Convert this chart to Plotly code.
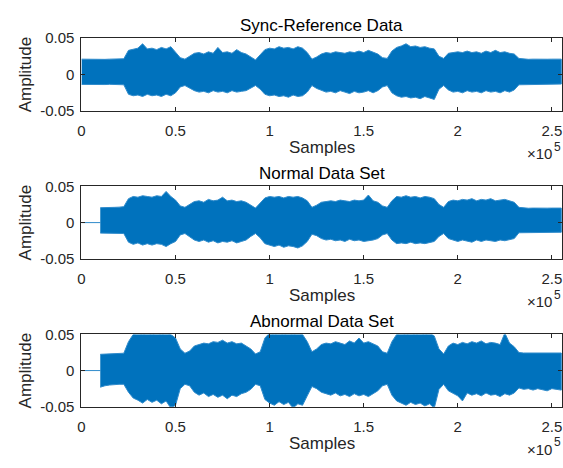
import plotly.graph_objects as go

W, H = 563, 468

# sample positions of the envelope readings (every 2500 samples)
positions = list(range(0, 257500, 2500))
onset = 10000  # start of recorded signal in Normal / Abnormal sets

titles = ["Sync-Reference Data", "Normal Data Set", "Abnormal Data Set"]
x_tickvals = [0, 50000, 100000, 150000, 200000, 250000]
x_ticktext = ["0", "0.5", "1", "1.5", "2", "2.5"]
y_tickvals = [-0.05, 0, 0.05]
y_ticktext = ["-0.05", "0", "0.05"]

# ---- envelope readings (upper / lower amplitude) ----
sync_upper = [
    0.021, 0.0208, 0.021, 0.0205, 0.021, 0.0207, 0.021, 0.0209, 0.021, 0.0215,
    0.033, 0.034, 0.036, 0.042, 0.035, 0.036, 0.034, 0.037, 0.035, 0.038,
    0.030, 0.023, 0.021, 0.025, 0.029, 0.030, 0.028, 0.031, 0.029, 0.037,
    0.030, 0.031, 0.029, 0.034, 0.030, 0.028, 0.024, 0.020, 0.027, 0.034,
    0.036, 0.035, 0.038, 0.036, 0.037, 0.035, 0.038, 0.036, 0.030, 0.021,
    0.024, 0.028, 0.030, 0.029, 0.031, 0.030, 0.029, 0.031, 0.030, 0.032,
    0.030, 0.033, 0.031, 0.028, 0.023, 0.022, 0.032, 0.037, 0.039, 0.042,
    0.038, 0.039, 0.037, 0.038, 0.036, 0.035, 0.025, 0.022, 0.029, 0.030,
    0.031, 0.030, 0.032, 0.030, 0.031, 0.029, 0.032, 0.030, 0.033, 0.030,
    0.031, 0.029, 0.028, 0.022, 0.021, 0.0208, 0.021, 0.0207, 0.021, 0.0209,
    0.021, 0.0208, 0.021,
]
sync_lower = [
    -0.0135, -0.0137, -0.0134, -0.0136, -0.0135, -0.0137, -0.0134, -0.0136, -0.0135, -0.014,
    -0.027, -0.029, -0.028, -0.030, -0.027, -0.029, -0.028, -0.030, -0.027, -0.029,
    -0.025, -0.017, -0.015, -0.019, -0.022, -0.024, -0.023, -0.025, -0.022, -0.024,
    -0.023, -0.025, -0.022, -0.024, -0.023, -0.022, -0.019, -0.015, -0.020, -0.027,
    -0.029, -0.028, -0.030, -0.029, -0.031, -0.028, -0.030, -0.029, -0.024, -0.015,
    -0.019, -0.022, -0.024, -0.023, -0.025, -0.022, -0.024, -0.026, -0.023, -0.025,
    -0.024, -0.022, -0.025, -0.022, -0.017, -0.015, -0.025, -0.029, -0.031, -0.030,
    -0.032, -0.031, -0.033, -0.030, -0.032, -0.034, -0.020, -0.015, -0.021, -0.024,
    -0.023, -0.025, -0.022, -0.024, -0.023, -0.025, -0.022, -0.024, -0.023, -0.025,
    -0.022, -0.024, -0.021, -0.014, -0.013, -0.0132, -0.013, -0.0131, -0.013, -0.0132,
    -0.013, -0.0131, -0.013,
]
# Normal / Abnormal readings start at the onset (position 10000)
normal_upper = [
    0.0205, 0.021, 0.0212, 0.021, 0.0213, 0.022,
    0.033, 0.036, 0.035, 0.037, 0.036, 0.035, 0.037, 0.036, 0.043, 0.036,
    0.031, 0.023, 0.021, 0.025, 0.029, 0.030, 0.028, 0.032, 0.030, 0.031,
    0.035, 0.030, 0.031, 0.029, 0.030, 0.028, 0.024, 0.020, 0.027, 0.034,
    0.036, 0.035, 0.036, 0.034, 0.036, 0.035, 0.036, 0.034, 0.030, 0.021,
    0.024, 0.028, 0.029, 0.030, 0.029, 0.031, 0.030, 0.029, 0.031, 0.030,
    0.031, 0.038, 0.030, 0.028, 0.023, 0.021, 0.030, 0.036, 0.035, 0.037,
    0.035, 0.036, 0.034, 0.036, 0.035, 0.033, 0.025, 0.021, 0.029, 0.031,
    0.030, 0.032, 0.031, 0.033, 0.030, 0.032, 0.031, 0.033, 0.030, 0.031,
    0.032, 0.030, 0.028, 0.021, 0.020, 0.0198, 0.020, 0.0197, 0.020, 0.0199,
    0.020, 0.0198, 0.020,
]
normal_lower = [
    -0.0145, -0.0146, -0.0146, -0.0145, -0.0147, -0.015,
    -0.027, -0.030, -0.028, -0.031, -0.029, -0.031, -0.029, -0.030, -0.033, -0.029,
    -0.026, -0.017, -0.015, -0.019, -0.024, -0.026, -0.024, -0.027, -0.025, -0.028,
    -0.026, -0.027, -0.025, -0.028, -0.026, -0.024, -0.019, -0.015, -0.021, -0.029,
    -0.031, -0.033, -0.031, -0.034, -0.032, -0.033, -0.035, -0.032, -0.026, -0.016,
    -0.018, -0.022, -0.024, -0.023, -0.025, -0.024, -0.026, -0.023, -0.025, -0.024,
    -0.026, -0.025, -0.024, -0.022, -0.017, -0.015, -0.024, -0.029, -0.028, -0.029,
    -0.027, -0.029, -0.028, -0.029, -0.027, -0.026, -0.019, -0.015, -0.022, -0.024,
    -0.026, -0.024, -0.025, -0.027, -0.024, -0.026, -0.024, -0.025, -0.026, -0.024,
    -0.025, -0.024, -0.022, -0.014, -0.0133, -0.0135, -0.0133, -0.0134, -0.0133, -0.0135,
    -0.0133, -0.0134, -0.0133,
]
abnormal_upper = [
    0.0225, 0.0228, 0.0226, 0.0229, 0.0227, 0.024,
    0.040, 0.050, 0.052, 0.050, 0.052, 0.050, 0.052, 0.050, 0.052, 0.050,
    0.045, 0.030, 0.024, 0.027, 0.034, 0.036, 0.038, 0.037, 0.040, 0.039,
    0.042, 0.038, 0.040, 0.037, 0.038, 0.034, 0.030, 0.023, 0.026, 0.045,
    0.052, 0.050, 0.052, 0.050, 0.052, 0.050, 0.052, 0.050, 0.040, 0.026,
    0.030, 0.036, 0.038, 0.037, 0.040, 0.038, 0.036, 0.041, 0.038, 0.045,
    0.038, 0.040, 0.037, 0.034, 0.026, 0.024, 0.040, 0.050, 0.052, 0.050,
    0.052, 0.050, 0.052, 0.050, 0.052, 0.048, 0.030, 0.023, 0.034, 0.038,
    0.036, 0.039, 0.037, 0.040, 0.038, 0.041, 0.037, 0.039, 0.038, 0.036,
    0.052, 0.038, 0.033, 0.025, 0.0243, 0.0243, 0.0243, 0.0243, 0.0243, 0.0243,
    0.0243, 0.0243, 0.0243,
]
abnormal_lower = [
    -0.023, -0.021, -0.020, -0.019, -0.019, -0.019,
    -0.030, -0.038, -0.041, -0.045, -0.040, -0.044, -0.041, -0.046, -0.042, -0.052,
    -0.048, -0.025, -0.019, -0.021, -0.030, -0.034, -0.031, -0.036, -0.033, -0.037,
    -0.034, -0.039, -0.034, -0.036, -0.032, -0.030, -0.026, -0.019, -0.021, -0.040,
    -0.045, -0.048, -0.043, -0.047, -0.044, -0.052, -0.046, -0.048, -0.035, -0.022,
    -0.025, -0.030, -0.032, -0.034, -0.031, -0.035, -0.033, -0.036, -0.032, -0.035,
    -0.033, -0.036, -0.032, -0.028, -0.021, -0.019, -0.034, -0.042, -0.045, -0.048,
    -0.044, -0.047, -0.045, -0.049, -0.046, -0.052, -0.026, -0.019, -0.028, -0.032,
    -0.035, -0.042, -0.031, -0.034, -0.032, -0.035, -0.031, -0.034, -0.033, -0.036,
    -0.032, -0.034, -0.031, -0.024, -0.026, -0.025, -0.027, -0.025, -0.026, -0.028,
    -0.025, -0.026, -0.027,
]

BLUE = "#0072BD"
EDGE = "#2F8BCB"
AX = "#262626"

# axes pixel geometry (top, bottom) for each panel
panels_px = [(30, 106), (184, 259.3), (337.7, 412.7)]
x_left_px, x_right_px = 78, 562.2

fig = go.Figure()

series = [
    (positions, sync_upper, sync_lower, False),
    ([p for p in positions if p >= onset], normal_upper, normal_lower, True),
    ([p for p in positions if p >= onset], abnormal_upper, abnormal_lower, True),
]

for k, (xs, up, lo, has_lead) in enumerate(series):
    xa = "x" if k == 0 else f"x{k+1}"
    ya = "y" if k == 0 else f"y{k+1}"
    if has_lead:
        fig.add_trace(go.Scatter(x=[0, onset], y=[0, 0], mode="lines",
                                 line=dict(color=EDGE, width=1),
                                 xaxis=xa, yaxis=ya, showlegend=False, hoverinfo="skip"))
    fig.add_trace(go.Scatter(x=xs + xs[::-1], y=up + lo[::-1], mode="lines",
                             fill="toself", fillcolor=BLUE,
                             line=dict(color=EDGE, width=1),
                             xaxis=xa, yaxis=ya, showlegend=False, hoverinfo="skip"))


def px2x(px):
    return px / W


def px2y(py):
    return 1 - py / H


layout = dict(width=W, height=H, margin=dict(l=0, r=0, t=0, b=0),
              paper_bgcolor="white", plot_bgcolor="white",
              font=dict(family="Liberation Sans, Arial, sans-serif", color=AX, size=15))

annotations = []
for k, (top, bot) in enumerate(panels_px):
    suffix = "" if k == 0 else str(k + 1)
    layout["xaxis" + suffix] = dict(
        domain=[px2x(x_left_px), px2x(x_right_px)], range=[0, 255500],
        anchor="y" + suffix, tickvals=x_tickvals, ticktext=x_ticktext,
        ticks="inside", ticklen=4, tickcolor=AX, showline=True, linecolor=AX,
        linewidth=1, mirror="ticks", showgrid=False, zeroline=False,
        tickfont=dict(size=15, color=AX), ticklabelstandoff=6)
    layout["yaxis" + suffix] = dict(
        domain=[px2y(bot), px2y(top)], range=[-0.05, 0.05],
        anchor="x" + suffix, tickvals=y_tickvals, ticktext=y_ticktext,
        ticks="inside", ticklen=4, tickcolor=AX, showline=True, linecolor=AX,
        linewidth=1, mirror="ticks", showgrid=False, zeroline=False,
        tickfont=dict(size=15, color=AX), ticklabelstandoff=3)
    cx = (x_left_px + x_right_px) / 2
    cy = (top + bot) / 2
    annotations.append(dict(text=titles[k], x=px2x(cx), y=px2y(top - 13),
                            xref="paper", yref="paper", showarrow=False,
                            xanchor="center", yanchor="middle",
                            font=dict(size=17, color="black")))
    annotations.append(dict(text="Samples", x=px2x(cx), y=px2y(bot + 38),
                            xref="paper", yref="paper", showarrow=False,
                            xanchor="center", yanchor="middle",
                            font=dict(size=17, color=AX)))
    annotations.append(dict(text="Amplitude", x=px2x(22), y=px2y(cy),
                            xref="paper", yref="paper", showarrow=False,
                            xanchor="center", yanchor="middle", textangle=-90,
                            font=dict(size=17, color=AX)))
    annotations.append(dict(text="×10", x=px2x(553), y=px2y(bot + 44),
                            xref="paper", yref="paper", showarrow=False,
                            xanchor="right", yanchor="middle", borderpad=0,
                            font=dict(size=15, color=AX)))
    annotations.append(dict(text="5", x=px2x(552.5), y=px2y(bot + 37),
                            xref="paper", yref="paper", showarrow=False,
                            xanchor="left", yanchor="middle", borderpad=0,
                            font=dict(size=12, color=AX)))

layout["annotations"] = annotations
fig.update_layout(**layout)
fig.write_html("out.html")
